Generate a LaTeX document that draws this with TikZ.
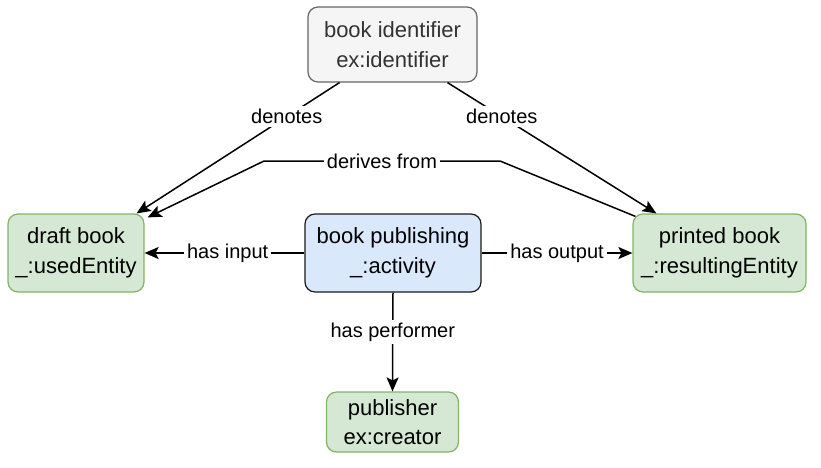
\documentclass[tikz,border=0pt]{standalone}
\usepackage{fontspec}
\setmainfont{Liberation Sans}
\usetikzlibrary{arrows.meta,calc}
\definecolor{grayfill}{HTML}{F5F5F5}
\definecolor{graydraw}{HTML}{666666}
\definecolor{greenfill}{HTML}{D5E8D4}
\definecolor{greendraw}{HTML}{82B366}
\definecolor{bluefill}{HTML}{DAE8FC}
\definecolor{bluedraw}{HTML}{1A1A1A}
\definecolor{txtgray}{HTML}{333333}
\tikzset{
  box/.style={rectangle, rounded corners=10pt, line width=1.2pt, align=center,
    inner sep=0pt, font=\fontsize{22}{29.5}\selectfont},
  graybox/.style={box, fill=grayfill, draw=graydraw, text=txtgray},
  greenbox/.style={box, fill=greenfill, draw=greendraw},
  bluebox/.style={box, fill=bluefill, draw=bluedraw},
  conn/.style={line width=1.5pt, -{Stealth[length=14pt,width=12pt,inset=3pt]}},
  lbl/.style={fill=white, inner sep=3pt, font=\fontsize{20}{24}\selectfont}
}
\begin{document}
\begin{tikzpicture}[x=1pt,y=-1pt]
\useasboundingbox (0,0) rectangle (821,467);
\node[graybox, minimum width=169pt, minimum height=75pt] (top) at (392.5,44.5) {book identifier\\ex:identifier};
\node[greenbox, minimum width=136pt, minimum height=78pt] (draft) at (76,253) {draft book\\\_:usedEntity};
\node[bluebox, minimum width=176pt, minimum height=78pt] (act) at (393,253) {book publishing\\\_:activity};
\node[greenbox, minimum width=173pt, minimum height=78pt] (printed) at (719.5,253) {printed book\\\_:resultingEntity};
\node[greenbox, minimum width=132pt, minimum height=60pt] (pub) at (392.5,422) {publisher\\ex:creator};

\coordinate (dl1) at ([xshift=-53pt]top.south);
\coordinate (dl2) at ([xshift=-8pt]draft.north east);
\coordinate (dr1) at ([xshift=55pt]top.south);
\coordinate (dr2) at ([xshift=24pt]printed.north west);
\coordinate (df1) at ([xshift=3pt,yshift=-3pt]printed.north west);
\coordinate (df2) at (500,161);
\coordinate (df3) at (264,161);
\coordinate (df4) at ([xshift=3pt,yshift=-4pt]draft.north east);

\draw[conn] (dl1) -- node[lbl, pos=0.26] {denotes} (dl2);
\draw[conn] (dr1) -- node[lbl, pos=0.26] {denotes} (dr2);
\draw[conn] (df1) -- (df2) -- node[lbl] {derives from} (df3) -- (df4);
\draw[conn] (act.west) -- node[lbl, pos=0.48] {has input} (draft.east);
\draw[conn] (act.east) -- node[lbl, pos=0.50] {has output} (printed.west);
\draw[conn] (act.south) -- node[lbl, pos=0.4] {has performer} (pub.north);
\end{tikzpicture}
\end{document}
